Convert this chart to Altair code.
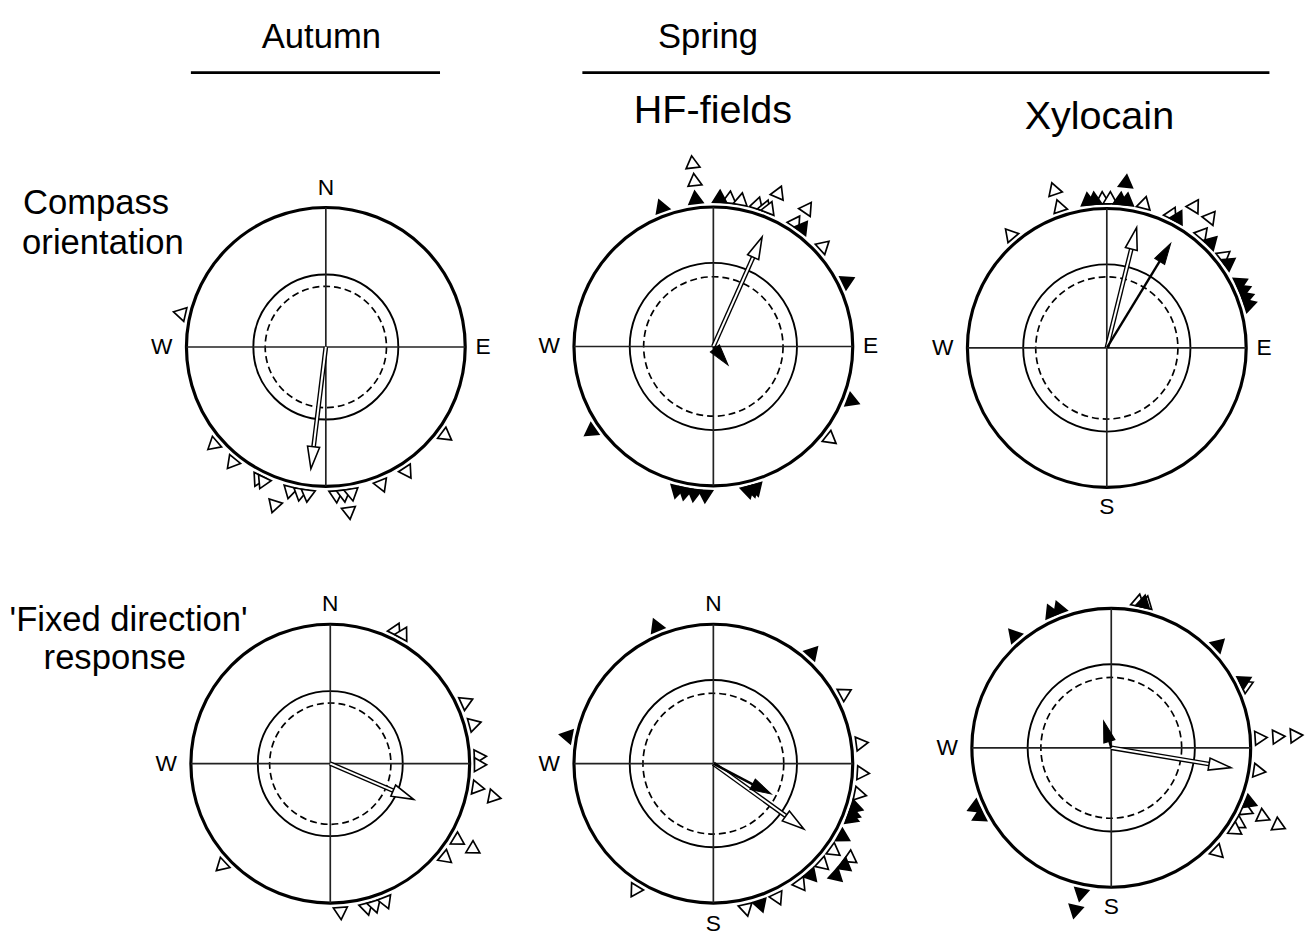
import altair as alt
import pandas as pd

# ------------------------------------------------------------------
# DATA
# ------------------------------------------------------------------
PANEL_IDS = ["aut_c", "hf_c", "xy_c", "aut_f", "hf_f", "xy_f"]

# individual headings: (bearing in degrees clockwise from N, stack level)
aut_c_open = [(283, 1), (229, 1), (219, 1), (207, 1), (205, 1), (198, 2), (194, 1), (190, 1),
              (187, 1), (176, 1), (173, 1), (170, 1), (172, 2), (158, 1), (147, 1), (126.5, 1)]
aut_c_filled = []

hf_c_open = [(353.5, 2), (353.5, 3), (6.3, 1), (10.7, 1), (17.2, 1), (20.5, 1), (22, 1), (23, 2),
             (33.5, 1), (34.2, 2), (47.7, 1), (128.3, 1)]
hf_c_filled = [(339.6, 1), (353.1, 1), (2.5, 1), (36.9, 1), (64, 1), (111.4, 1), (235.3, 1),
               (194.2, 1), (191.1, 1), (187.5, 1), (183.1, 1), (166.4, 1), (164.6, 1), (163.3, 1)]

xy_c_open = [(319.6, 1), (341.4, 1), (341.6, 2), (358.3, 1), (1.3, 1), (14.6, 1), (25.9, 1),
             (31.7, 2), (38.4, 2), (39.9, 1), (51.9, 1)]
xy_c_filled = [(352.7, 1), (355.2, 1), (5.3, 1), (7.8, 1), (6.6, 2), (28.6, 1), (44.7, 1),
               (55.1, 1), (64, 1), (67, 1), (70, 1), (73, 1)]

aut_f_open = [(26.1, 1), (29.2, 1), (65.6, 1), (74.6, 1), (87.3, 1), (90.4, 1), (99.3, 1),
              (101.5, 2), (121, 1), (120.8, 2), (129.2, 1), (226.8, 1), (176, 1), (165.8, 1),
              (162.6, 1), (158.1, 1)]
aut_f_filled = []

hf_f_open = [(61.8, 1), (82.2, 1), (93.6, 1), (101.8, 1), (125.9, 1), (124.6, 2), (132.6, 1),
             (144.2, 1), (154.5, 1), (167.3, 1), (211.7, 1)]
hf_f_filled = [(337.5, 1), (41.7, 1), (107.2, 1), (109.9, 1), (111.6, 1), (119.4, 1), (127.8, 2),
               (132.4, 2), (138.8, 1), (161.5, 1), (280.7, 1)]

xy_f_open = [(10.5, 1), (13.5, 1), (65.2, 1), (86.2, 1), (86.2, 2), (86.2, 3), (98.9, 1),
             (114.8, 1), (114.4, 2), (114.9, 3), (120.7, 1), (123.5, 1), (134.4, 1)]
xy_f_filled = [(12.5, 1), (336, 1), (339.4, 1), (319.2, 1), (46.1, 1), (63.3, 1), (111.6, 1),
               (246.4, 1), (242.5, 1), (191.8, 1), (192.5, 2)]

# mean vectors: panel -> (bearing, length as fraction of circle radius)
mean_open = {"aut_c": (187, 0.88), "hf_c": (24, 0.86), "xy_c": (13.9, 0.89),
             "aut_f": (113.2, 0.65), "hf_f": (125.8, 0.80), "xy_f": (99.4, 0.87)}
mean_filled = {"hf_c": (141.7, 0.17), "xy_c": (31.4, 0.88),
               "hf_f": (117.7, 0.47), "xy_f": (344, 0.20)}

# significance circles (fraction of radius)
crit_solid = [0.52, 0.60, 0.60, 0.52, 0.60, 0.60]
crit_dashed = [0.435, 0.50, 0.51, 0.435, 0.505, 0.505]

# compass letters shown in each panel
compass_letters = {"aut_c": ["N", "W", "E"], "hf_c": ["W", "E"], "xy_c": ["W", "E", "S"],
                   "aut_f": ["N", "W"], "hf_f": ["N", "W", "S"], "xy_f": ["W", "S"]}

col_titles = ["Autumn", "Spring"]
sub_titles = ["HF-fields", "Xylocain"]
row_titles = ["Compass", "orientation", "'Fixed direction'", "response"]

# ------------------------------------------------------------------
# LAYOUT (positions / sizes, page pixel units)
# ------------------------------------------------------------------
panel_cx = [329.5, 721.5, 1119.5, 334, 721.5, 1124]
panel_cy = [345.5, 345, 346.5, 767, 767, 751]
panel_R = [141, 141, 141, 141, 141, 141]
letter_bearing = {"N": 0, "E": 90, "S": 180, "W": 270}
letter_gap = {"N": 20, "E": 18, "S": 20, "W": 25}
letter_gap_override = {("hf_f", "S"): 21}

col_title_pos = [(325, 32), (716, 32)]
sub_title_pos = [(721, 107), (1112, 113)]
row_title_pos = [(97, 200), (104, 240), (130, 622), (116, 660)]
header_lines = [(193, 445, 68), (589, 1284, 68)]

FONT = "Liberation Sans"
W_PX, H_PX = 1299, 929

layout = pd.DataFrame({"panel": PANEL_IDS, "cx": panel_cx, "cy": panel_cy, "R": panel_R})

XS = alt.Scale(domain=[8, 8 + W_PX], nice=False, zero=False)
YS = alt.Scale(domain=[8, 8 + H_PX], nice=False, zero=False, reverse=True)


def X(f):
    return alt.X(f"{f}:Q", scale=XS, axis=None)


def Y(f):
    return alt.Y(f"{f}:Q", scale=YS, axis=None)


# ---------- circles ----------
circ_rows = []
for i, pid in enumerate(PANEL_IDS):
    circ_rows.append({"panel": pid, "kind": "outer", "frac": 1.0})
    circ_rows.append({"panel": pid, "kind": "solid", "frac": crit_solid[i]})
    circ_rows.append({"panel": pid, "kind": "dashed", "frac": crit_dashed[i]})
circ = pd.DataFrame(circ_rows).merge(layout, on="panel")
circ_base = alt.Chart(circ).transform_calculate(
    size="pow(2 * datum.frac * datum.R, 2)"
)


def circle_layer(kind, sw, dash=None):
    kw = dict(shape="circle", filled=False, color="black", strokeWidth=sw, opacity=1)
    if dash:
        kw["strokeDash"] = dash
    return circ_base.transform_filter(f"datum.kind == '{kind}'").mark_point(**kw).encode(
        x=X("cx"), y=Y("cy"), size=alt.Size("size:Q", scale=None)
    )


outer = circle_layer("outer", 3.2)
solid = circle_layer("solid", 1.9)
dashed = circle_layer("dashed", 1.7, [7, 4])

# ---------- cross hairs ----------
cross_base = alt.Chart(layout).transform_calculate(
    xl="datum.cx - datum.R", xr="datum.cx + datum.R",
    yt="datum.cy - datum.R", yb="datum.cy + datum.R",
)
hline = cross_base.mark_rule(color="#222", strokeWidth=1.7).encode(
    x=X("xl"), x2=alt.X2("xr:Q"), y=Y("cy"))
vline = cross_base.mark_rule(color="#222", strokeWidth=1.7).encode(
    x=X("cx"), y=Y("yt"), y2=alt.Y2("yb:Q"))

# ---------- individual birds ----------
bird_rows = []
sets = [("aut_c", aut_c_open, aut_c_filled), ("hf_c", hf_c_open, hf_c_filled),
        ("xy_c", xy_c_open, xy_c_filled), ("aut_f", aut_f_open, aut_f_filled),
        ("hf_f", hf_f_open, hf_f_filled), ("xy_f", xy_f_open, xy_f_filled)]
for pid, op, fl in sets:
    for b, lev in op:
        bird_rows.append({"panel": pid, "bearing": b, "level": lev, "group": "open"})
    for b, lev in fl:
        bird_rows.append({"panel": pid, "bearing": b, "level": lev, "group": "filled"})
birds = pd.DataFrame(bird_rows).merge(layout, on="panel")

birds_layer = alt.Chart(birds).transform_calculate(
    rr="datum.R + 11 + (datum.level - 1) * 18"
).transform_calculate(
    x="datum.cx + datum.rr * sin(datum.bearing * PI / 180)",
    y="datum.cy - datum.rr * cos(datum.bearing * PI / 180)",
).mark_point(shape="triangle-up", size=200, filled=True, stroke="black",
             strokeWidth=1.7, opacity=1).encode(
    x=X("x"), y=Y("y"),
    angle=alt.Angle("bearing:Q", scale=None),
    fill=alt.Fill("group:N", scale=alt.Scale(domain=["open", "filled"], range=["white", "black"]),
                  legend=None),
)

# ---------- mean vectors ----------
arrow_rows = []
for pid, (b, ln) in mean_open.items():
    arrow_rows.append({"panel": pid, "group": "open", "bearing": b, "length": ln})
for pid, (b, ln) in mean_filled.items():
    arrow_rows.append({"panel": pid, "group": "filled", "bearing": b, "length": ln})
arrows = pd.DataFrame(arrow_rows).merge(layout, on="panel")

arrow_base = alt.Chart(arrows).transform_calculate(
    L="datum.length * datum.R",
    s="sin(datum.bearing * PI / 180)",
    c="cos(datum.bearing * PI / 180)",
).transform_calculate(
    sh="max(datum.L - 18, 0)",
    tx="datum.cx + datum.L * datum.s",
    ty="datum.cy - datum.L * datum.c",
).transform_calculate(
    sx="datum.cx + datum.sh * datum.s",
    sy="datum.cy - datum.sh * datum.c",
)
HEAD = "M0,0 L0.55,2 L-0.55,2 Z"
open_a = arrow_base.transform_filter("datum.group == 'open'")
fill_a = arrow_base.transform_filter("datum.group == 'filled'")

open_outer = open_a.mark_rule(color="black", strokeWidth=4.8).encode(
    x=X("cx"), y=Y("cy"), x2=alt.X2("sx:Q"), y2=alt.Y2("sy:Q"))
open_inner = open_a.mark_rule(color="white", strokeWidth=2).encode(
    x=X("cx"), y=Y("cy"), x2=alt.X2("sx:Q"), y2=alt.Y2("sy:Q"))
open_head = open_a.mark_point(shape=HEAD, size=500, filled=True, fill="white", stroke="black",
                              strokeWidth=1.6, opacity=1).encode(
    x=X("tx"), y=Y("ty"), angle=alt.Angle("bearing:Q", scale=None))
fill_shaft = fill_a.mark_rule(color="black", strokeWidth=2.4).encode(
    x=X("cx"), y=Y("cy"), x2=alt.X2("sx:Q"), y2=alt.Y2("sy:Q"))
fill_head = fill_a.mark_point(shape=HEAD, size=460, filled=True, fill="black", stroke="black",
                              strokeWidth=1, opacity=1).encode(
    x=X("tx"), y=Y("ty"), angle=alt.Angle("bearing:Q", scale=None))

# ---------- compass letters ----------
let_rows = []
for pid in PANEL_IDS:
    for L in compass_letters[pid]:
        gap = letter_gap_override.get((pid, L), letter_gap[L])
        let_rows.append({"panel": pid, "letter": L, "lb": letter_bearing[L], "gap": gap})
letters = pd.DataFrame(let_rows).merge(layout, on="panel")
letters_layer = alt.Chart(letters).transform_calculate(
    x="datum.cx + (datum.R + datum.gap) * sin(datum.lb * PI / 180)",
    y="datum.cy - (datum.R + datum.gap) * cos(datum.lb * PI / 180)",
).mark_text(font=FONT, fontSize=23, align="center", baseline="middle", color="black").encode(
    x=X("x"), y=Y("y"), text="letter:N")


# ---------- titles ----------
def text_layer(texts, pos, size):
    df = pd.DataFrame({"t": texts, "x": [p[0] for p in pos], "y": [p[1] for p in pos]})
    return alt.Chart(df).mark_text(font=FONT, fontSize=size, align="center",
                                   baseline="middle", color="black").encode(
        x=X("x"), y=Y("y"), text="t:N")


col_layer = text_layer(col_titles, col_title_pos, 35)
sub_layer = text_layer(sub_titles, sub_title_pos, 40)
row_layer = text_layer(row_titles, row_title_pos, 35)

hl = pd.DataFrame({"x": [h[0] for h in header_lines], "x2": [h[1] for h in header_lines],
                   "y": [h[2] for h in header_lines]})
hline_layer = alt.Chart(hl).mark_rule(color="black", strokeWidth=2.6).encode(
    x=X("x"), x2=alt.X2("x2:Q"), y=Y("y"))

chart = alt.layer(
    outer, solid, dashed, hline, vline, birds_layer,
    open_outer, open_inner, open_head, fill_shaft, fill_head,
    letters_layer, col_layer, sub_layer, row_layer, hline_layer,
).properties(width=W_PX, height=H_PX, padding=0, background="white").configure_view(strokeWidth=0)

chart.save("out.html", embed_options={"renderer": "svg", "actions": False})
